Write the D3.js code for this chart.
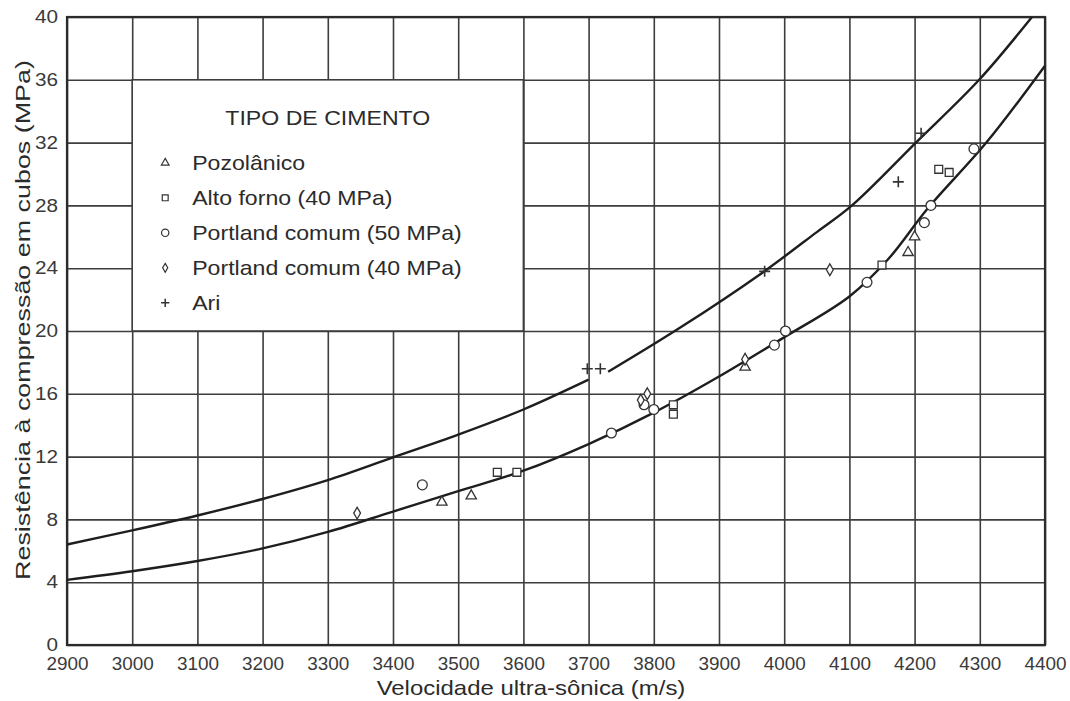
<!DOCTYPE html>
<html>
<head>
<meta charset="utf-8">
<script src="https://cdn.jsdelivr.net/npm/d3@7"></script>
<style>
  body { margin: 0; background: #fff; }
  svg { display: block; }
</style>
</head>
<body>
<svg id="chart"></svg>
<script>
// tick labels
let xTicks = [2900, 3000, 3100, 3200, 3300, 3400, 3500, 3600, 3700, 3800, 3900, 4000, 4100, 4200, 4300, 4400];
let yTicks = [0, 4, 8, 12, 16, 20, 24, 28, 32, 36, 40];

// measured points [velocity m/s, strength MPa]
let pozolanico = [[3475, 9.1], [3520, 9.5], [3940, 17.7], [4190, 25.0], [4200, 26.0]];
let altoForno = [[3560, 11.0], [3590, 11.0], [3830, 15.3], [3830, 14.7], [4150, 24.2], [4237, 30.3], [4253, 30.1]];
let portland50 = [[3445, 10.2], [3735, 13.5], [3785, 15.3], [3800, 15.0], [3985, 19.1], [4002, 20.0],
  [4127, 23.1], [4215, 26.9], [4225, 28.0], [4291, 31.6]];
let portland40 = [[3345, 8.4], [3780, 15.6], [3790, 16.0], [3940, 18.2], [4070, 23.9]];
let ari = [[3698, 17.6], [3718, 17.6], [3970, 23.8], [4175, 29.5], [4210, 32.6]];

// fitted curves
let lowerCurve = [[2900, 4.15], [3000, 4.7], [3100, 5.35], [3200, 6.15], [3300, 7.2], [3400, 8.5], [3500, 9.8],
  [3600, 11.1], [3700, 12.8], [3800, 14.8], [3900, 17.1], [4000, 19.6], [4100, 22.2], [4160, 24.6],
  [4220, 27.8], [4310, 32.0], [4400, 36.9]];
let upperCurveLeft = [[2900, 6.4], [3000, 7.3], [3100, 8.25], [3200, 9.3], [3300, 10.5], [3400, 11.95],
  [3500, 13.4], [3600, 15.0], [3700, 16.9]];
let upperCurveRight = [[3730, 17.4], [3840, 20.2], [3966, 23.7], [4050, 26.3], [4104, 28.0], [4202, 32.0],
  [4299, 36.0], [4380, 40.0]];

let legendNames = ["Pozolânico", "Alto forno (40 MPa)", "Portland comum (50 MPa)", "Portland comum (40 MPa)", "Ari"];
let legendTitle = "TIPO DE CIMENTO";

let width = 1070;
let height = 701;
let margin = { left: 67, right: 25, top: 17, bottom: 56 };

let ink = "#2b2b2b";
let gridColor = "#3d3d3d";
let font = "'Liberation Sans', Arial, sans-serif";

let svg = d3.select("#chart").attr("width", width).attr("height", height);

let xScale = d3.scaleLinear().domain([2900, 4400]).range([margin.left, width - margin.right]);
let yScale = d3.scaleLinear().domain([0, 40]).range([height - margin.bottom, margin.top]);

// widen text a little, the original typeface is broader than Arial
let stretch = (sel, k) => {
  sel.each(function () {
    let w = this.getComputedTextLength();
    d3.select(this).attr("textLength", w * k).attr("lengthAdjust", "spacingAndGlyphs");
  });
};

// grid + tick labels
let plotH = yScale(0) - yScale(40);
let plotW = xScale(4400) - xScale(2900);

let xAxis = svg.append("g")
  .attr("transform", "translate(0," + yScale(0) + ")")
  .call(d3.axisBottom(xScale).tickValues(xTicks).tickSize(-plotH).tickPadding(12).tickFormat(d3.format("d")));

let yAxis = svg.append("g")
  .attr("transform", "translate(" + xScale(2900) + ",0)")
  .call(d3.axisLeft(yScale).tickValues(yTicks).tickSize(-plotW).tickPadding(9).tickFormat(d3.format("d")));

[xAxis, yAxis].forEach((g) => {
  g.select(".domain").remove();
  g.selectAll(".tick line").attr("stroke", gridColor).attr("stroke-width", 1.6);
  g.selectAll(".tick text")
    .attr("fill", "#3a3a3a")
    .style("font-family", font)
    .style("font-size", "18px");
});
stretch(xAxis.selectAll(".tick text"), 1.05);
stretch(yAxis.selectAll(".tick text"), 1.15);

// frame
svg.append("rect")
  .attr("x", xScale(2900))
  .attr("y", yScale(40))
  .attr("width", plotW)
  .attr("height", plotH)
  .attr("fill", "none")
  .attr("stroke", ink)
  .attr("stroke-width", 2.2);

// curves
let line = d3.line()
  .x((d) => xScale(d[0]))
  .y((d) => yScale(d[1]))
  .curve(d3.curveCatmullRom.alpha(0.5));

[lowerCurve, upperCurveLeft, upperCurveRight].forEach((c) => {
  svg.append("path")
    .attr("d", line(c))
    .attr("fill", "none")
    .attr("stroke", "#1e1e1e")
    .attr("stroke-width", 2.4);
});

// marker shapes
let symbolPath = (kind) => {
  if (kind === 0) return d3.symbol(d3.symbolTriangle, 46)();
  if (kind === 1) return d3.symbol(d3.symbolSquare, 62)();
  if (kind === 2) return d3.symbol(d3.symbolCircle, 76)();
  if (kind === 3) return d3.symbol(d3.symbolDiamond, 40)();
  return "M-5.5,0H5.5M0,-5.5V5.5";
};

let series = [pozolanico, altoForno, portland50, portland40, ari];

series.forEach((pts, k) => {
  svg.append("g")
    .selectAll("path")
    .data(pts)
    .enter()
    .append("path")
    .attr("d", symbolPath(k))
    .attr("transform", (d) => "translate(" + xScale(d[0]) + "," + yScale(d[1]) + ")")
    .attr("fill", k === 4 ? "none" : "#fff")
    .attr("stroke", "#333")
    .attr("stroke-width", k === 4 ? 1.6 : 1.3);
});

// legend box (covers grid cells 3000-3600 x 20-36)
let lx0 = xScale(3000), lx1 = xScale(3600);
let ly0 = yScale(36), ly1 = yScale(20);

let legend = svg.append("g").attr("id", "legend");
legend.append("rect")
  .attr("x", lx0)
  .attr("y", ly0)
  .attr("width", lx1 - lx0)
  .attr("height", ly1 - ly0)
  .attr("fill", "#fff")
  .attr("stroke", gridColor)
  .attr("stroke-width", 1.6);

let title = legend.append("text")
  .attr("x", (lx0 + lx1) / 2)
  .attr("y", ly0 + 45)
  .attr("text-anchor", "middle")
  .attr("fill", ink)
  .style("font-family", font)
  .style("font-size", "21px")
  .text(legendTitle);
stretch(title, 1.1);

let items = legend.selectAll(".legend-item")
  .data(legendNames)
  .enter()
  .append("g")
  .attr("class", "legend-item")
  .attr("transform", (d, i) => "translate(" + lx0 + "," + (ly0 + 90 + i * 35) + ")");

items.append("path")
  .attr("d", (d, i) => symbolPath(i))
  .attr("transform", "translate(33,-7) scale(0.75)")
  .attr("fill", (d, i) => (i === 4 ? "none" : "#fff"))
  .attr("stroke", "#333")
  .attr("stroke-width", (d, i) => (i === 4 ? 2 : 1.6));

let itemText = items.append("text")
  .attr("x", 60)
  .attr("y", 0)
  .attr("fill", ink)
  .style("font-family", font)
  .style("font-size", "21px")
  .text((d) => d);
stretch(itemText, 1.1);

// axis titles
let xTitle = svg.append("text")
  .attr("x", 531)
  .attr("y", 695)
  .attr("text-anchor", "middle")
  .attr("fill", ink)
  .style("font-family", font)
  .style("font-size", "21px")
  .text("Velocidade ultra-sônica (m/s)");
stretch(xTitle, 1.14);

let yTitle = svg.append("text")
  .attr("transform", "translate(30," + 320 + ") rotate(-90)")
  .attr("text-anchor", "middle")
  .attr("fill", ink)
  .style("font-family", font)
  .style("font-size", "21px")
  .text("Resistência à compressão em cubos (MPa)");
stretch(yTitle, 1.28);
</script>
</body>
</html>
